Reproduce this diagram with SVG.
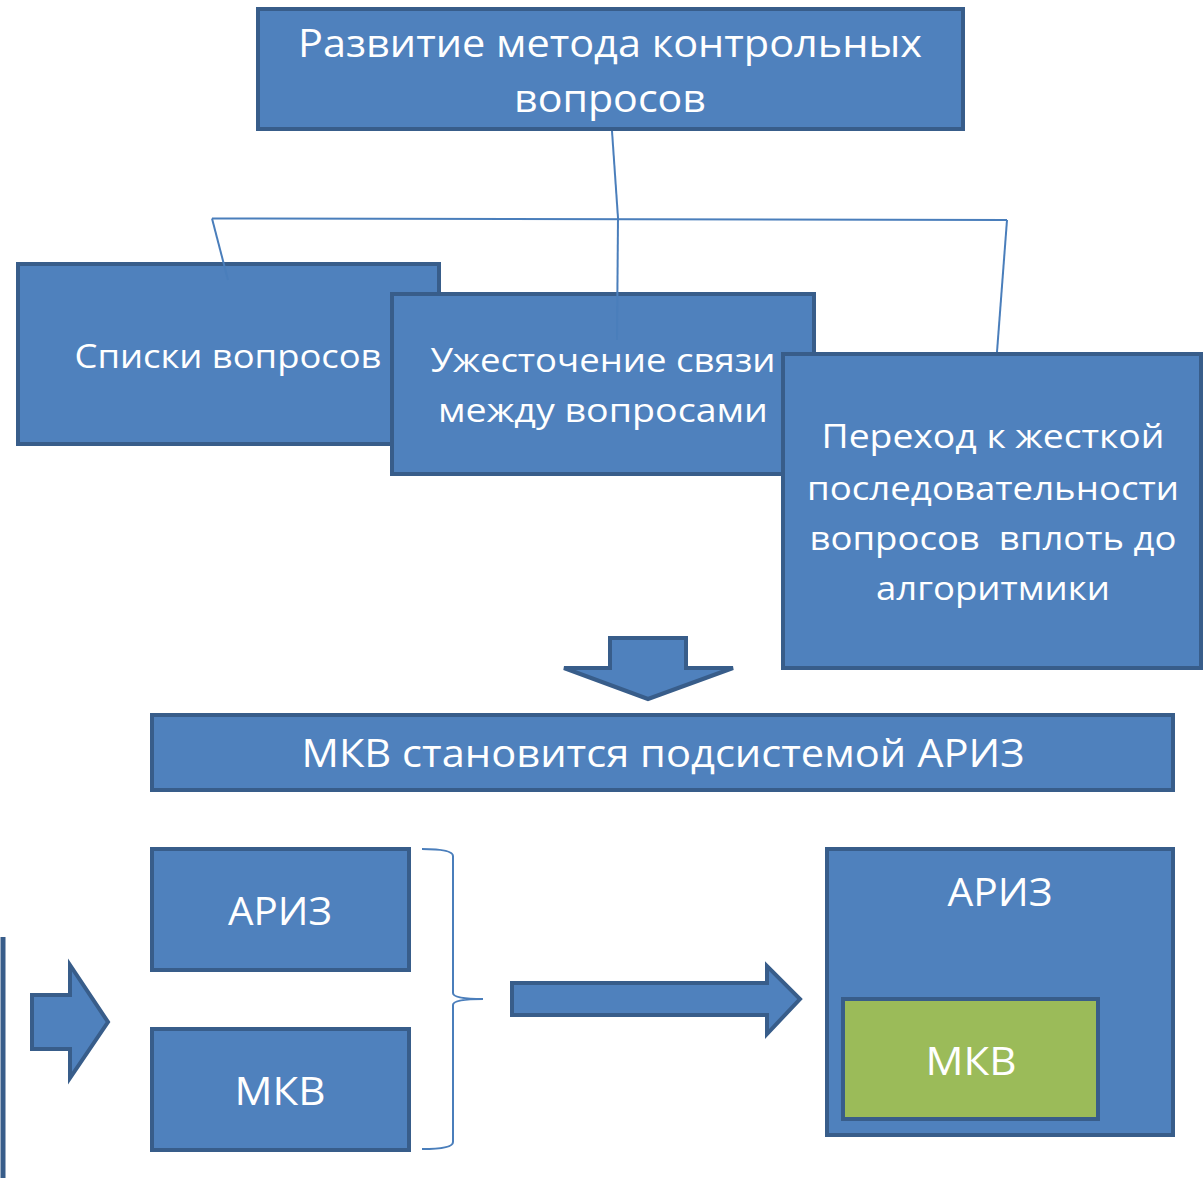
<svg xmlns="http://www.w3.org/2000/svg" width="1203" height="1178" viewBox="0 0 1203 1178">
  <style>
    .box { fill: #4F81BD; stroke: #385D8A; stroke-width: 4; }
    .green { fill: #9BBB59; stroke: #385D8A; stroke-width: 4; }
    .shape { fill: #4F81BD; stroke: #385D8A; stroke-width: 4; stroke-linejoin: miter; }
    .conn { fill: none; stroke: #4A7EBB; stroke-width: 2; }
    text { font-family: "Open Sans", "Noto Sans", "Liberation Sans", sans-serif; fill: #FFFFFF; text-anchor: middle; }
    .t40 { font-size: 38px; }
    .t34 { font-size: 33px; }
  </style>

  <g id="node-top">
    <rect class="box" x="258" y="9" width="705" height="120"/>
    <text class="t40" x="610" y="57" textLength="624" lengthAdjust="spacingAndGlyphs">Развитие метода контрольных</text>
    <text class="t40" x="610" y="112" textLength="192" lengthAdjust="spacingAndGlyphs">вопросов</text>
  </g>

  <g id="node-lists">
    <rect class="box" x="18" y="264" width="421" height="180"/>
    <text class="t34" x="228" y="368" textLength="307" lengthAdjust="spacingAndGlyphs">Списки вопросов</text>
  </g>

  <g id="node-tighten">
    <rect class="box" x="392" y="294" width="422" height="180"/>
    <text class="t34" x="603" y="372" textLength="345" lengthAdjust="spacingAndGlyphs">Ужесточение связи</text>
    <text class="t34" x="603" y="422" textLength="330" lengthAdjust="spacingAndGlyphs">между вопросами</text>
  </g>

  <g id="node-sequence">
    <rect class="box" x="783" y="354" width="418" height="314"/>
    <text class="t34" x="993" y="448" textLength="343" lengthAdjust="spacingAndGlyphs">Переход к жесткой</text>
    <text class="t34" x="993" y="500" textLength="372" lengthAdjust="spacingAndGlyphs">последовательности</text>
    <text class="t34" x="993" y="550" textLength="367" lengthAdjust="spacingAndGlyphs" xml:space="preserve">вопросов  вплоть до</text>
    <text class="t34" x="993" y="600" textLength="234" lengthAdjust="spacingAndGlyphs">алгоритмики</text>
  </g>

  <!-- tree connectors drawn over the boxes -->
  <g id="connectors">
    <path class="conn" d="M612,131 L618,218"/>
    <path class="conn" d="M212,218.5 L1007,220"/>
    <path class="conn" d="M212,218.5 L228,280"/>
    <path class="conn" d="M618,218 L617,340"/>
    <path class="conn" d="M1007,220 L997,352"/>
  </g>

  <g id="arrow-down">
    <polygon class="shape" points="610,638 686,638 686,668 733,668 648,699 564,668 610,668"/>
  </g>

  <g id="node-banner">
    <rect class="box" x="152" y="715" width="1021" height="75"/>
    <text class="t40" x="663" y="767" textLength="723" lengthAdjust="spacingAndGlyphs">МКВ становится подсистемой АРИЗ</text>
  </g>

  <g id="edge-bar">
    <line x1="3" y1="937" x2="3" y2="1178" stroke="#385D8A" stroke-width="5"/>
  </g>

  <g id="arrow-left">
    <polygon class="shape" points="32,995 70,995 70,965 108,1022 70,1078 70,1049 32,1049"/>
  </g>

  <g id="node-ariz">
    <rect class="box" x="152" y="849" width="257" height="121"/>
    <text class="t40" x="280" y="925" textLength="104" lengthAdjust="spacingAndGlyphs">АРИЗ</text>
  </g>

  <g id="node-mkv">
    <rect class="box" x="152" y="1029" width="257" height="121"/>
    <text class="t40" x="280" y="1105" textLength="91" lengthAdjust="spacingAndGlyphs">МКВ</text>
  </g>

  <g id="brace">
    <path class="conn" d="M422,849 Q453,849 453,856 L453,993 Q453,999 483,999 Q453,999 453,1005 L453,1142 Q453,1149 422,1149"/>
  </g>

  <g id="arrow-right">
    <polygon class="shape" points="512,983 767,983 767,966 800,999 767,1034 767,1015 512,1015"/>
  </g>

  <g id="node-ariz-system">
    <rect class="box" x="827" y="849" width="346" height="286"/>
    <text class="t40" x="1000" y="906" textLength="105" lengthAdjust="spacingAndGlyphs">АРИЗ</text>
  </g>

  <g id="node-mkv-sub">
    <rect class="green" x="843" y="999" width="255" height="120"/>
    <text class="t40" x="971" y="1075" textLength="91" lengthAdjust="spacingAndGlyphs">МКВ</text>
  </g>
</svg>
